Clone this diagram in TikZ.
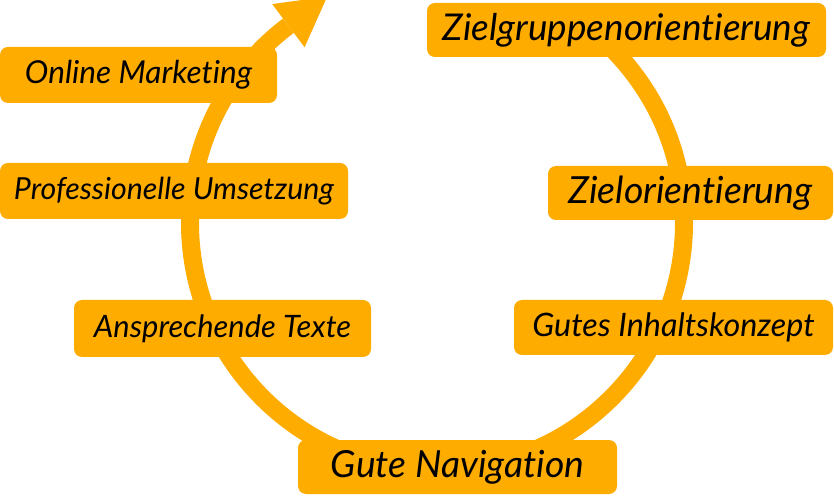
\documentclass[tikz,border=0pt]{standalone}
\usepackage{fontspec}
\setmainfont{Lato}[Ligatures=NoCommon]
\usepackage{graphicx}
\definecolor{ringorange}{RGB}{255,172,0}
\tikzset{
  x=1pt, y=1pt,
  ring/.style={draw=ringorange, line width=18pt, line cap=butt},
  tag/.style={fill=ringorange, rounded corners=8pt, inner sep=0pt, align=center, text=black, font=\itshape},
}
\newcommand{\fitw}[2]{\resizebox{#1pt}{!}{#2}}
\begin{document}
\begin{tikzpicture}
\useasboundingbox (0,0) rectangle (834,495);
\coordinate (c) at (437,272);
% ring
\draw[ring] (c) ++(45:247) arc[start angle=45, end angle=-233, radius=247] coordinate (aend);
% arrow head
\fill[ringorange] (272.2,490.9) -- (327.2,498.5) -- (304.6,447.7) -- cycle;
% labels
\node[tag, minimum width=277pt, minimum height=56pt] (om) at (138.5,420) {\fitw{227}{Online Marketing}};
\node[tag, minimum width=348pt, minimum height=56pt] (pu) at (174,304) {\fitw{320}{Professionelle Umsetzung}};
\node[tag, minimum width=297pt, minimum height=57pt] (at) at (222.5,166.5) {\fitw{257}{Ansprechende Texte}};
\node[tag, minimum width=319pt, minimum height=54pt] (gn) at (457.5,28) {\fitw{253}{Gute Navigation}};
\node[tag, minimum width=319pt, minimum height=55pt] (gi) at (673.5,167.5) {\fitw{282}{Gutes Inhaltskonzept}};
\node[tag, minimum width=285pt, minimum height=54pt] (zo) at (690.5,302) {\fitw{244}{Zielorientierung}};
\node[tag, minimum width=399pt, minimum height=54pt] (zg) at (626.5,465) {\fitw{367}{Zielgruppenorientierung}};
\end{tikzpicture}
\end{document}
